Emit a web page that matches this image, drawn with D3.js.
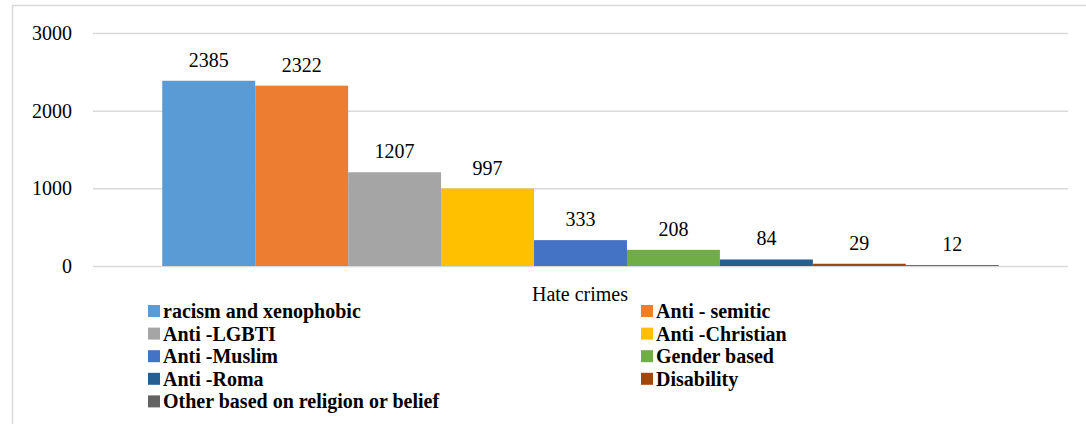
<!DOCTYPE html>
<html><head><meta charset="utf-8">
<script src="https://cdn.jsdelivr.net/npm/d3@7"></script>
<style>body{margin:0;background:#fff}svg{display:block}</style>
</head><body>
<svg id="c" width="1086" height="424" font-family="Liberation Serif" font-size="20"></svg>
<script>
const categories = ["racism and xenophobic","Anti - semitic","Anti -LGBTI","Anti -Christian","Anti -Muslim","Gender based","Anti -Roma","Disability","Other based on religion or belief"];
const values = [2385,2322,1207,997,333,208,84,29,12];
const colors = ["#5B9BD5","#ED7D31","#A5A5A5","#FFC000","#4472C4","#70AD47","#255E91","#9E480E","#636363"];
const yTicks = [0,1000,2000,3000];
const axisTitle = "Hate crimes";

const ST = "font-family:'Liberation Serif';font-size:20px";
const svg = d3.select("#c");
// frame
svg.append("path").attr("d","M12.5,424 V5.5 H1086").attr("fill","none").attr("stroke","#d9d9d9").attr("stroke-width",1.5);

const x = d3.scaleBand().domain(categories).range([93,1068]).paddingInner(0).paddingOuter(0.745);
const y = d3.scaleLinear().domain([0,3000]).range([266,33]);

const yAxis = svg.append("g").attr("transform","translate(93,0)")
  .call(d3.axisLeft(y).tickValues(yTicks).tickSize(-975).tickPadding(21).tickFormat(d3.format("d")));
yAxis.attr("font-family",null).attr("font-size",null);
yAxis.select(".domain").remove();
yAxis.selectAll("line").attr("stroke","#d9d9d9").attr("stroke-width",1.5);
yAxis.selectAll("text").attr("style",ST).attr("fill","#000");

svg.append("g").selectAll("text").data(categories).join("text")
  .attr("x",d=>x(d)+x.bandwidth()/2).attr("y",(d,i)=>y(values[i])-14)
  .attr("text-anchor","middle").attr("style",ST)
  .text((d,i)=>values[i]);

svg.append("g").selectAll("rect").data(categories).join("rect")
  .attr("x",d=>x(d)).attr("width",x.bandwidth())
  .attr("y",(d,i)=>y(values[i])).attr("height",(d,i)=>y(0)-y(values[i]))
  .attr("fill",(d,i)=>colors[i]);

svg.append("text").attr("x",580).attr("y",301).attr("text-anchor","middle")
  .attr("style",ST).text(axisTitle);

const lg = svg.append("g").selectAll("g").data(categories).join("g")
  .attr("transform",(d,i)=>`translate(${i%2===0?148:641},${311+Math.floor(i/2)*22.6})`);
lg.append("rect").attr("x",0).attr("y",-6).attr("width",12).attr("height",12).attr("fill",(d,i)=>colors[i]);
lg.append("text").attr("x",15).attr("y",7).attr("style",ST+";font-weight:bold").text(d=>d);
</script>
</body></html>
